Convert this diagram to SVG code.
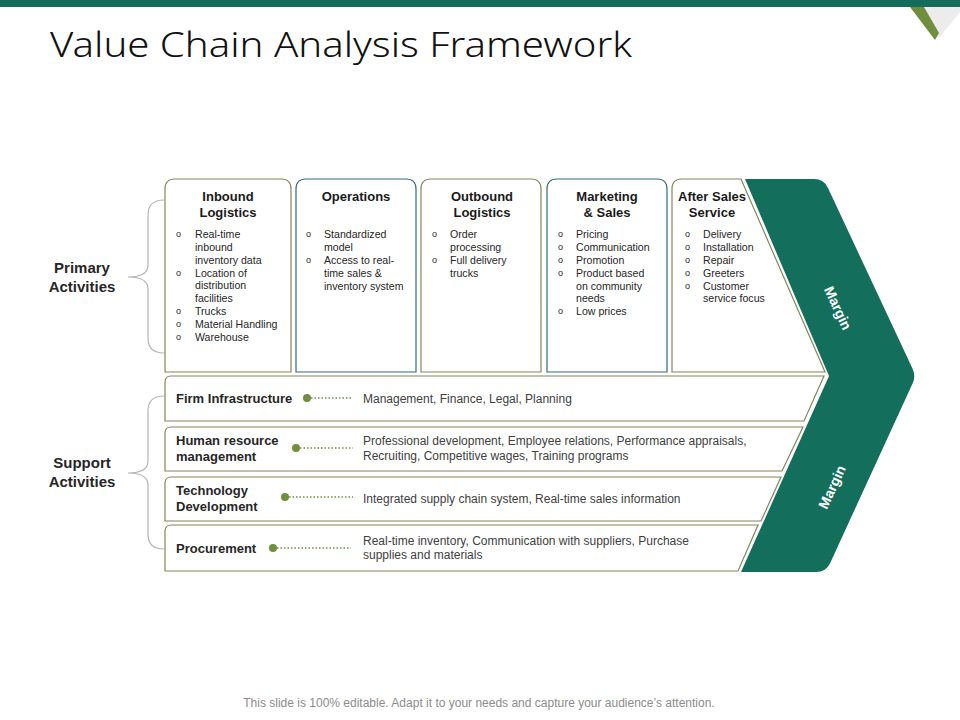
<svg xmlns="http://www.w3.org/2000/svg" width="960" height="720" viewBox="0 0 960 720">
<style>
.title{font-family:"Noto Sans","Liberation Sans",sans-serif;font-weight:300;font-size:35px;fill:#111}
.side{font-family:"Liberation Sans",Arial,sans-serif;font-weight:bold;font-size:15px;fill:#262626;text-anchor:middle}
.hd{font-family:"Liberation Sans",Arial,sans-serif;font-weight:bold;font-size:13px;fill:#1a1a1a;text-anchor:middle}
.it{font-family:"Liberation Sans",Arial,sans-serif;font-size:10.6px;fill:#262626}
.bul{font-family:"Liberation Sans",Arial,sans-serif;font-size:9px;fill:#262626}
.lbl{font-family:"Liberation Sans",Arial,sans-serif;font-weight:bold;font-size:13px;fill:#262626}
.desc{font-family:"Liberation Sans",Arial,sans-serif;font-size:12px;fill:#404040}
.mg{font-family:"Liberation Sans",Arial,sans-serif;font-weight:bold;font-size:14px;fill:#fff;text-anchor:middle}
.foot{font-family:"Liberation Sans",Arial,sans-serif;font-size:12px;fill:#8c8c8c;text-anchor:middle}
.ol{fill:#fff;stroke:#86865a;stroke-width:1.2}
.tl{fill:#fff;stroke:#2f6d7c;stroke-width:1.2}
.brace{fill:none;stroke:#b5b5b5;stroke-width:1.2}
.dot{fill:#6f8e3e}
.dl{stroke:#6f8e3e;stroke-width:1.5;stroke-dasharray:1.5 2}
</style>
<rect x="0" y="0" width="960" height="720" fill="#fff"/>
<rect x="0" y="0" width="960" height="7" fill="#146c5a"/>
<polygon points="924,7 960,7 960,12 939,38" fill="#ececec"/>
<polygon points="910,7 924,7 939,33 935,40" fill="#6f8e3e"/>
<text class="title" x="50" y="57" textLength="582" lengthAdjust="spacingAndGlyphs">Value Chain Analysis Framework</text>

<g id="braces">
<path class="brace" d="M164,200 Q148,200 148,215 V265 Q148,277 128,277 Q148,277 148,289 V338 Q148,353 164,353"/>
<path class="brace" d="M164,396 Q148,396 148,411 V461 Q148,473 128,473 Q148,473 148,485 V534 Q148,549 164,549"/>
</g>
<g id="primary-label"><text class="side" x="82" y="273">Primary</text><text class="side" x="82" y="292">Activities</text></g>
<g id="support-label"><text class="side" x="82" y="468">Support</text><text class="side" x="82" y="487">Activities</text></g>

<g id="margin">
<path d="M745,179 H814 Q824,179 828,188 L912.6,368.8 Q916,376 912.7,383.3 L830.2,562.9 Q826,572 816,572 H741 L829,376 Z" fill="#136f5b"/>
<text class="mg" transform="translate(838,308) rotate(65)" y="5">Margin</text>
<text class="mg" transform="translate(832,487) rotate(-65)" y="5">Margin</text>
</g>

<g id="inbound">
<path class="ol" d="M165,372 V189 Q165,179 175,179 H281 Q291,179 291,189 V372 Z"/>
<text class="hd" x="228" y="201">Inbound</text><text class="hd" x="228" y="217">Logistics</text>
<g class="bul"><text x="176" y="237">o</text><text x="176" y="276">o</text><text x="176" y="314">o</text><text x="176" y="327">o</text><text x="176" y="340">o</text></g>
<g class="it"><text x="195" y="237.5">Real-time</text><text x="195" y="250.5">inbound</text><text x="195" y="263.5">inventory data</text><text x="195" y="276.5">Location of</text><text x="195" y="289">distribution</text><text x="195" y="302">facilities</text><text x="195" y="314.5">Trucks</text><text x="195" y="327.5">Material Handling</text><text x="195" y="340.5">Warehouse</text></g>
</g>

<g id="operations">
<path class="tl" d="M296,372 V189 Q296,179 306,179 H406 Q416,179 416,189 V372 Z"/>
<text class="hd" x="356" y="201">Operations</text>
<g class="bul"><text x="306" y="237">o</text><text x="306" y="263">o</text></g>
<g class="it"><text x="324" y="237.5">Standardized</text><text x="324" y="250.5">model</text><text x="324" y="263.5">Access to real-</text><text x="324" y="276.5">time sales &amp;</text><text x="324" y="289.5">inventory system</text></g>
</g>

<g id="outbound">
<path class="ol" d="M421,372 V189 Q421,179 431,179 H531 Q541,179 541,189 V372 Z"/>
<text class="hd" x="482" y="201">Outbound</text><text class="hd" x="482" y="217">Logistics</text>
<g class="bul"><text x="432" y="237">o</text><text x="432" y="263">o</text></g>
<g class="it"><text x="450" y="237.5">Order</text><text x="450" y="250.5">processing</text><text x="450" y="263.5">Full delivery</text><text x="450" y="276.5">trucks</text></g>
</g>

<g id="marketing">
<path class="tl" d="M547,372 V189 Q547,179 557,179 H657 Q667,179 667,189 V372 Z"/>
<text class="hd" x="607" y="201">Marketing</text><text class="hd" x="607" y="217">&amp; Sales</text>
<g class="bul"><text x="558" y="237">o</text><text x="558" y="250">o</text><text x="558" y="263">o</text><text x="558" y="276">o</text><text x="558" y="314">o</text></g>
<g class="it"><text x="576" y="237.5">Pricing</text><text x="576" y="250.5">Communication</text><text x="576" y="263.5">Promotion</text><text x="576" y="276.5">Product based</text><text x="576" y="289.5">on community</text><text x="576" y="301.5">needs</text><text x="576" y="314.5">Low prices</text></g>
</g>

<g id="after-sales">
<path class="ol" d="M672,372 V189 Q672,179 682,179 H741 L825,372 Z"/>
<text class="hd" x="712" y="201">After Sales</text><text class="hd" x="712" y="217">Service</text>
<g class="bul"><text x="685" y="237">o</text><text x="685" y="250">o</text><text x="685" y="263">o</text><text x="685" y="276">o</text><text x="685" y="289">o</text></g>
<g class="it"><text x="703" y="237.5">Delivery</text><text x="703" y="250.5">Installation</text><text x="703" y="263.5">Repair</text><text x="703" y="276.5">Greeters</text><text x="703" y="289.5">Customer</text><text x="703" y="301.5">service focus</text></g>
</g>

<g id="firm-infrastructure">
<path class="ol" d="M165,421 V382 Q165,376 171,376 H824 L804,421 Z"/>
<text class="lbl" x="176" y="403">Firm Infrastructure</text>
<text class="desc" x="363" y="403">Management, Finance, Legal, Planning</text>
</g>
<g id="human-resource">
<path class="ol" d="M165,471 V433 Q165,427 171,427 H803 L782,471 Z"/>
<text class="lbl" x="176" y="445">Human resource</text><text class="lbl" x="176" y="461">management</text>
<text class="desc" x="363" y="445">Professional development, Employee relations, Performance appraisals,</text>
<text class="desc" x="363" y="460">Recruiting, Competitive wages, Training programs</text>
</g>
<g id="technology">
<path class="ol" d="M165,521 V483 Q165,477 171,477 H781 L761,521 Z"/>
<text class="lbl" x="176" y="495">Technology</text><text class="lbl" x="176" y="511">Development</text>
<text class="desc" x="363" y="502.5">Integrated supply chain system, Real-time sales information</text>
</g>
<g id="procurement">
<path class="ol" d="M165,571 V531 Q165,525 171,525 H758 L738,571 Z"/>
<text class="lbl" x="176" y="552.5">Procurement</text>
<text class="desc" x="363" y="545">Real-time inventory, Communication with suppliers, Purchase</text>
<text class="desc" x="363" y="559">supplies and materials</text>
</g>

<g id="connectors">
<line class="dl" x1="311" y1="398" x2="353" y2="398"/><circle class="dot" cx="307" cy="398" r="4"/>
<line class="dl" x1="300" y1="448" x2="353" y2="448"/><circle class="dot" cx="296" cy="448" r="4"/>
<line class="dl" x1="289" y1="497" x2="353" y2="497"/><circle class="dot" cx="285" cy="497" r="4"/>
<line class="dl" x1="277" y1="548" x2="351" y2="548"/><circle class="dot" cx="273" cy="548" r="4"/>
</g>

<text class="foot" x="479" y="707">This slide is 100% editable. Adapt it to your needs and capture your audience’s attention.</text>
</svg>
